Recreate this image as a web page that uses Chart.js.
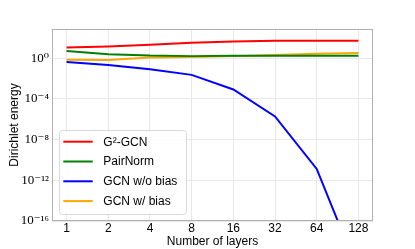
<!DOCTYPE html>
<html>
<head>
<meta charset="utf-8">
<script src="https://cdn.jsdelivr.net/npm/chart.js@4/dist/chart.umd.min.js"></script>
<style>
  html, body { margin: 0; padding: 0; background: #fff; }
  #wrap { width: 415px; height: 249px; position: relative; }
</style>
</head>
<body>
<div id="wrap"><canvas id="c" width="415" height="249"></canvas></div>
<script>
// ---- data ----
const layers = [1, 2, 4, 8, 16, 32, 64, 128];
const g2gcn     = [11.2, 14.1, 20.9, 32.4, 43.7, 51.3, 51.3, 51.3];
const pairNorm  = [5.2, 2.5, 1.8, 1.6, 1.7, 1.7, 1.7, 1.7];
const gcnNoBias = [0.43, 0.22, 0.081, 0.023, 8.5e-4, 1.9e-6, 1.3e-11, 1e-21];
const gcnBias   = [0.72, 0.68, 1.15, 1.35, 1.6, 2.1, 2.7, 3.3];
const seriesNames = ['G\u00B2-GCN', 'PairNorm', 'GCN w/o bias', 'GCN w/ bias'];
const yTickValues = [1e-16, 1e-12, 1e-8, 1e-4, 1];
const yTickLabels = ['10\u207B\u00B9\u2076', '10\u207B\u00B9\u00B2', '10\u207B\u2078', '10\u207B\u2074', '10\u2070'];
const xLabel = 'Number of layers';
const yLabel = 'Dirichlet energy';

const colors = ['#ff0000', '#008000', '#0000ff', '#ffa500'];
const allSeries = [g2gcn, pairNorm, gcnNoBias, gcnBias];

const sans = "'Liberation Sans', Arial, sans-serif";
const serif = "'Liberation Serif', 'DejaVu Serif', serif";

const datasets = allSeries.map((vals, i) => ({
  label: seriesNames[i],
  data: layers.map((l, j) => ({ x: l, y: vals[j] })),
  borderColor: colors[i],
  backgroundColor: colors[i],
  borderWidth: 2,
  pointRadius: 0,
  tension: 0,
  fill: false
}));

const framePlugin = {
  id: 'frame',
  afterDatasetsDraw(chart) {
    const { ctx, chartArea: a } = chart;
    ctx.save();
    ctx.strokeStyle = '#b0b0b0';
    ctx.lineWidth = 1;
    ctx.strokeRect(a.left + 0.5, a.top + 0.5, a.right - a.left - 1, a.bottom - a.top - 1);
    ctx.restore();
  }
};

const legendPlugin = {
  id: 'innerLegend',
  afterDatasetsDraw(chart) {
    const { ctx, chartArea: a } = chart;
    const w = 127, h = 84;
    const x0 = a.left + 7, y0 = a.bottom - 7 - h;
    ctx.save();
    ctx.beginPath();
    if (ctx.roundRect) ctx.roundRect(x0 + 0.5, y0 + 0.5, w, h, 3);
    else ctx.rect(x0 + 0.5, y0 + 0.5, w, h);
    ctx.fillStyle = 'rgba(255,255,255,0.85)';
    ctx.fill();
    ctx.strokeStyle = '#d9d9d9';
    ctx.lineWidth = 1;
    ctx.stroke();
    chart.data.datasets.forEach((ds, i) => {
      const y = y0 + 11.7 + i * 19.8;
      ctx.beginPath();
      ctx.moveTo(x0 + 4.3, y);
      ctx.lineTo(x0 + 33.7, y);
      ctx.strokeStyle = ds.borderColor;
      ctx.lineWidth = 2;
      ctx.stroke();
      ctx.fillStyle = '#000';
      ctx.font = '12px ' + sans;
      ctx.textAlign = 'left';
      ctx.textBaseline = 'middle';
      ctx.fillText(ds.label, x0 + 44.3, y + 0.5);
    });
    ctx.restore();
  }
};

new Chart(document.getElementById('c'), {
  type: 'line',
  data: { datasets },
  options: {
    responsive: false,
    animation: false,
    devicePixelRatio: 1,
    layout: { padding: { top: 29, right: 42, left: 0, bottom: 0 } },
    plugins: { legend: { display: false }, tooltip: { enabled: false } },
    scales: {
      x: {
        type: 'logarithmic',
        min: Math.pow(2, -0.35),
        max: Math.pow(2, 7.35),
        afterBuildTicks(s) { s.ticks = layers.map(v => ({ value: v })); },
        afterFit(s) { s.height = 28; },
        grid: { color: '#e8e8e8', lineWidth: 1, drawTicks: false },
        border: { display: false },
        ticks: {
          padding: 0,
          autoSkip: false,
          maxRotation: 0,
          color: '#000',
          font: { family: sans, size: 12 },
          callback: (v) => String(v)
        },
        title: { display: true, text: xLabel, color: '#000', font: { family: sans, size: 12 }, padding: { top: 0, bottom: 0 } }
      },
      y: {
        type: 'logarithmic',
        min: 1e-16,
        max: Math.pow(10, 2.87),
        afterBuildTicks(s) { s.ticks = yTickValues.map(v => ({ value: v })); },
        afterFit(s) { s.width = 52; },
        grid: { color: '#e8e8e8', lineWidth: 1, drawTicks: false },
        border: { display: false },
        ticks: {
          padding: 3,
          autoSkip: false,
          color: '#000',
          font: { family: serif, size: 13 },
          callback: (v) => {
            const k = yTickValues.findIndex(t => Math.abs(Math.log10(t) - Math.log10(v)) < 1e-6);
            return k >= 0 ? yTickLabels[k] : '';
          }
        },
        title: { display: true, text: yLabel, color: '#000', font: { family: sans, size: 12 }, padding: { top: 7, bottom: 0 } }
      }
    }
  },
  plugins: [framePlugin, legendPlugin]
});
</script>
</body>
</html>
